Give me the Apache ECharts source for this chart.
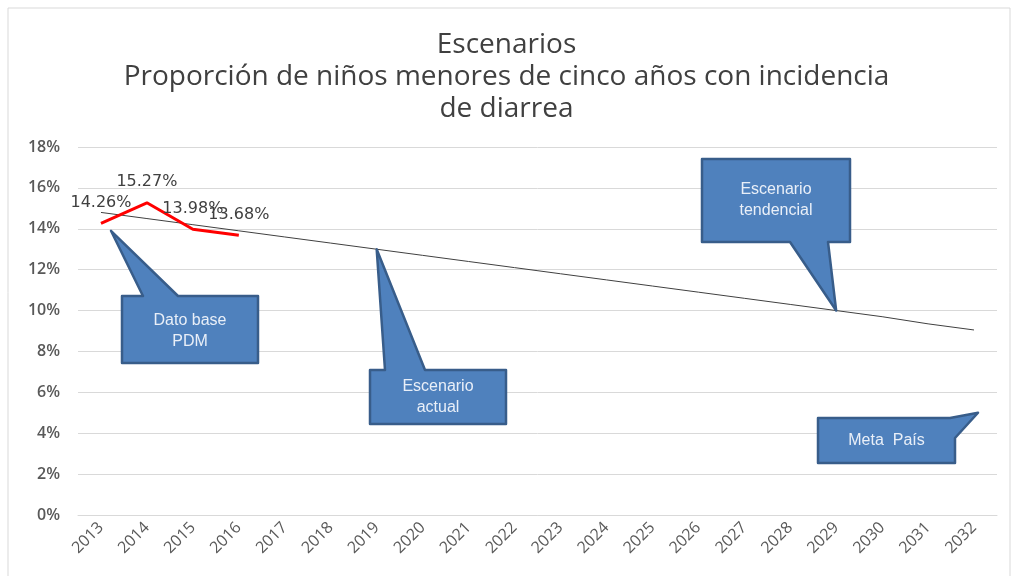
<!DOCTYPE html>
<html>
<head>
<meta charset="utf-8">
<script src="https://cdn.jsdelivr.net/npm/echarts@6/dist/echarts.min.js"></script>
<style>
  html, body { margin: 0; padding: 0; background: #fff; }
  #main { width: 1013px; height: 576px; }
</style>
</head>
<body>
<div id="main"></div>
<script>
var years = ['2013', '2014', '2015', '2016', '2017', '2018', '2019', '2020', '2021', '2022',
    '2023', '2024', '2025', '2026', '2027', '2028', '2029', '2030', '2031', '2032'];
var actual = [14.26, 15.27, 13.98, 13.68];
var tendencia = [14.8, 14.5, 14.2, 13.9, 13.6, 13.3, 13.0, 12.7, 12.4, 12.1,
    11.8, 11.5, 11.2, 10.9, 10.6, 10.3, 10.0, 9.7, 9.35, 9.05];
var yTicks = [0, 2, 4, 6, 8, 10, 12, 14, 16, 18];

var myChart = echarts.init(document.getElementById('main'));
var option = {
    animation: false,
    title: {
        text: 'Escenarios\nProporción de niños menores de cinco años con incidencia\nde diarrea',
        left: 'center',
        top: 24,
        textStyle: {
            fontFamily: 'Open Sans',
            fontWeight: 'normal',
            fontSize: 28,
            lineHeight: 32,
            color: '#404040'
        }
    },
    grid: {
        left: 78,
        right: 16,
        top: 147,
        bottom: 61
    },
    xAxis: {
        type: 'category',
        data: years,
        boundaryGap: true,
        axisLine: { lineStyle: { color: '#d9d9d9' } },
        axisTick: { show: false },
        axisLabel: {
            rotate: 45,
            interval: 0,
            fontFamily: 'Open Sans',
            fontSize: 16,
            color: '#595959',
            margin: 10
        }
    },
    yAxis: {
        type: 'value',
        min: yTicks[0],
        max: yTicks[yTicks.length - 1],
        interval: 2,
        axisLine: { show: false },
        axisTick: { show: false },
        splitLine: { lineStyle: { color: '#d9d9d9' } },
        axisLabel: {
            formatter: '{value}%',
            fontFamily: 'Open Sans',
            fontWeight: 600,
            fontSize: 16,
            color: '#595959',
            margin: 18
        }
    },
    series: [{
            name: 'Escenario tendencial',
            type: 'line',
            data: tendencia,
            symbol: 'none',
            lineStyle: { color: '#404040', width: 1 },
            z: 2
        },
        {
            name: 'Escenario actual',
            type: 'line',
            data: actual,
            symbol: 'circle',
            symbolSize: 1,
            showSymbol: true,
            itemStyle: { color: 'rgba(255,0,0,0)' },
            lineStyle: { color: '#ff0000', width: 3 },
            label: {
                show: true,
                position: 'top',
                distance: 12,
                formatter: function (p) { return p.value.toFixed(2) + '%'; },
                fontFamily: 'DejaVu Sans',
                fontSize: 16,
                color: '#404040'
            },
            z: 3
        }
    ]
};
myChart.setOption(option);

// callouts, tips anchored to data points
function tip(cat, val, dx, dy) {
    var p = myChart.convertToPixel({ gridIndex: 0 }, [cat, val]);
    return [p[0] + dx, p[1] + dy];
}

function callout(box, pointer, label, dy) {
    return [{
        type: 'polygon',
        shape: { points: pointer },
        style: { fill: '#4f81bd', stroke: '#385d8a', lineWidth: 2.5, lineJoin: 'round' },
        z: 10
    }, {
        type: 'text',
        x: box[0] + box[2] / 2,
        y: box[1] + box[3] / 2 + (dy || 0),
        style: {
            text: label,
            fill: '#e9eff8',
            font: '16px "Liberation Sans"',
            align: 'center',
            verticalAlign: 'middle',
            lineHeight: 21
        },
        z: 11
    }];
}

var t1 = tip('2013', 13.9, 10, 0);
var t2 = tip('2019', tendencia[6], 0, 0);
var t3 = tip('2029', tendencia[16], 0, 0);
var t4 = tip('2032', 5.0, 4, 0);

var graphics = [{
    type: 'rect',
    shape: { x: 8, y: 8, width: 1002, height: 580 },
    style: { fill: 'none', stroke: '#d9d9d9', lineWidth: 1 },
    silent: true,
    z: 0
}];
graphics = graphics.concat(
    callout([122, 296, 136, 67],
        [[122, 296], [143, 296], t1, [178, 296], [258, 296], [258, 363], [122, 363]],
        'Dato base\nPDM', 2),
    callout([370, 370, 136, 54],
        [[370, 370], [385, 370], t2, [425, 370], [506, 370], [506, 424], [370, 424]],
        'Escenario\nactual', 0),
    callout([702, 159, 148, 83],
        [[702, 159], [850, 159], [850, 242], [828, 242], t3, [790, 242], [702, 242]],
        'Escenario\ntendencial', 0),
    callout([818, 418, 137, 45],
        [[818, 418], [950, 418], t4, [955, 438], [955, 463], [818, 463]],
        'Meta  País', 0)
);
myChart.setOption({ graphic: graphics });
</script>
</body>
</html>
